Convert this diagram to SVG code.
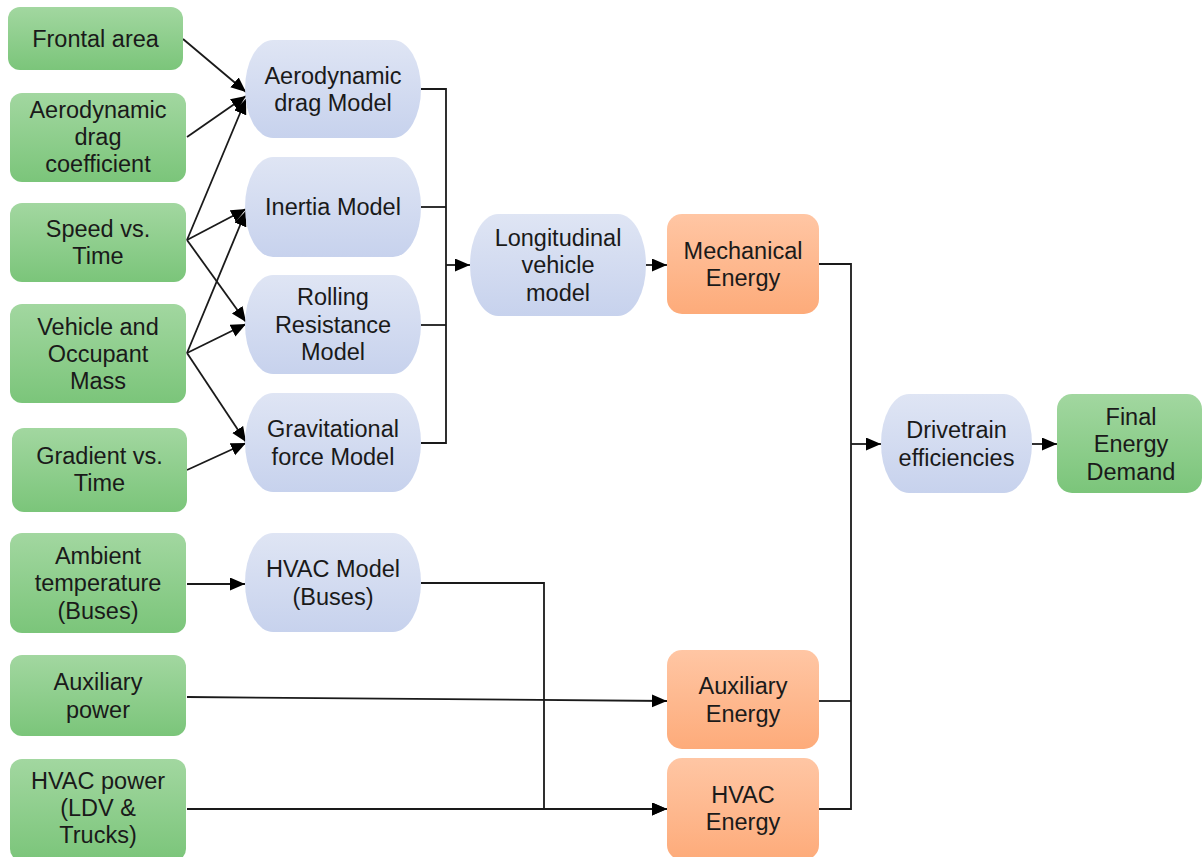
<svg xmlns="http://www.w3.org/2000/svg" width="1202" height="857" viewBox="0 0 1202 857">
<defs>
<linearGradient id="gG" x1="0" y1="0" x2="0" y2="1"><stop offset="0" stop-color="#a2d7a0"/><stop offset="1" stop-color="#7bc57a"/></linearGradient>
<linearGradient id="gB" x1="0" y1="0" x2="0" y2="1"><stop offset="0" stop-color="#dfe5f4"/><stop offset="1" stop-color="#c7d2ed"/></linearGradient>
<linearGradient id="gO" x1="0" y1="0" x2="0" y2="1"><stop offset="0" stop-color="#ffc6a4"/><stop offset="1" stop-color="#fdab7a"/></linearGradient>
<marker id="ar" markerUnits="userSpaceOnUse" markerWidth="16" markerHeight="14" refX="15" refY="6.5" orient="auto"><path d="M0,0 L15,6.5 L0,13 z" fill="#000"/></marker>
<style>
.g{fill:url(#gG);}
.b{fill:url(#gB);}
.o{fill:url(#gO);}
text{font-family:"Liberation Sans",Arial,sans-serif;font-size:23.5px;fill:#1a1a1a;text-anchor:middle;}
.c{fill:none;stroke:#1a1a1a;stroke-width:1.8;}
.a{marker-end:url(#ar);}
</style>
</defs>
<rect width="1202" height="857" fill="#fff"/>
<g id="connectors">
<line class="c a" x1="183" y1="39" x2="246" y2="92"/>
<line class="c a" x1="187" y1="137" x2="246" y2="96"/>
<line class="c a" x1="187" y1="240" x2="246" y2="99"/>
<line class="c a" x1="187" y1="240" x2="246" y2="209"/>
<line class="c a" x1="187" y1="353" x2="246" y2="211"/>
<line class="c a" x1="187" y1="240" x2="246" y2="322"/>
<line class="c a" x1="187" y1="353" x2="246" y2="324"/>
<line class="c a" x1="187" y1="353" x2="246" y2="442"/>
<line class="c a" x1="187" y1="470" x2="246" y2="443"/>
<polyline class="c" points="421,89 446,89 446,443 421,443"/>
<line class="c" x1="421" y1="207" x2="446" y2="207"/>
<line class="c" x1="421" y1="325" x2="446" y2="325"/>
<line class="c a" x1="446" y1="265" x2="470" y2="265"/>
<line class="c a" x1="646" y1="265" x2="667" y2="265"/>
<polyline class="c" points="819,264 851,264 851,809 819,809"/>
<line class="c" x1="819" y1="701" x2="851" y2="701"/>
<line class="c a" x1="851" y1="444" x2="881" y2="444"/>
<line class="c a" x1="1032" y1="444" x2="1057" y2="444"/>
<line class="c a" x1="187" y1="584" x2="245" y2="584"/>
<polyline class="c a" points="421,583 544,583 544,809 667,809"/>
<line class="c a" x1="187" y1="697" x2="667" y2="701"/>
<line class="c a" x1="187" y1="809" x2="667" y2="809"/>
</g>
<g id="frontal-area"><rect class="g" x="8" y="7" width="175" height="63" rx="12"/><text x="95.5" y="47">Frontal area</text></g>
<g id="aero-coef"><rect class="g" x="10" y="93" width="176" height="89" rx="12"/><text x="98" y="118">Aerodynamic</text><text x="98" y="145">drag</text><text x="98" y="172">coefficient</text></g>
<g id="speed"><rect class="g" x="10" y="203" width="176" height="79" rx="12"/><text x="98" y="237">Speed vs.</text><text x="98" y="264">Time</text></g>
<g id="mass"><rect class="g" x="10" y="304" width="176" height="99" rx="12"/><text x="98" y="335">Vehicle and</text><text x="98" y="362">Occupant</text><text x="98" y="389">Mass</text></g>
<g id="gradient"><rect class="g" x="12" y="428" width="175" height="84" rx="12"/><text x="99.5" y="464">Gradient vs.</text><text x="99.5" y="491">Time</text></g>
<g id="ambient"><rect class="g" x="10" y="533" width="176" height="100" rx="12"/><text x="98" y="563.5">Ambient</text><text x="98" y="591">temperature</text><text x="98" y="618.5">(Buses)</text></g>
<g id="aux-power"><rect class="g" x="10" y="655" width="176" height="81" rx="12"/><text x="98" y="690">Auxiliary</text><text x="98" y="717.5">power</text></g>
<g id="hvac-power"><rect class="g" x="10" y="759" width="176" height="102" rx="12"/><text x="98" y="789">HVAC power</text><text x="98" y="816">(LDV &amp;</text><text x="98" y="843">Trucks)</text></g>
<g id="aero-model"><rect class="b" x="245" y="40" width="176" height="98" rx="28" ry="60"/><text x="333" y="83.5">Aerodynamic</text><text x="333" y="111">drag Model</text></g>
<g id="inertia-model"><rect class="b" x="245" y="157" width="176" height="100" rx="28" ry="60"/><text x="333" y="215">Inertia Model</text></g>
<g id="rolling-model"><rect class="b" x="245" y="275" width="176" height="99" rx="28" ry="60"/><text x="333" y="305">Rolling</text><text x="333" y="332.5">Resistance</text><text x="333" y="360">Model</text></g>
<g id="grav-model"><rect class="b" x="245" y="393" width="176" height="99" rx="28" ry="60"/><text x="333" y="437">Gravitational</text><text x="333" y="464.5">force Model</text></g>
<g id="hvac-model"><rect class="b" x="245" y="533" width="176" height="99" rx="28" ry="60"/><text x="333" y="577">HVAC Model</text><text x="333" y="604.5">(Buses)</text></g>
<g id="longitudinal"><rect class="b" x="470" y="214" width="176" height="102" rx="28" ry="60"/><text x="558" y="245.5">Longitudinal</text><text x="558" y="273">vehicle</text><text x="558" y="300.5">model</text></g>
<g id="mech-energy"><rect class="o" x="667" y="214" width="152" height="100" rx="15"/><text x="743" y="258.5">Mechanical</text><text x="743" y="286">Energy</text></g>
<g id="drivetrain"><rect class="b" x="881" y="394" width="151" height="99" rx="28" ry="60"/><text x="956.5" y="438">Drivetrain</text><text x="956.5" y="465.5">efficiencies</text></g>
<g id="final"><rect class="g" x="1057" y="394" width="145" height="99" rx="15"/><text x="1131" y="424.5">Final</text><text x="1131" y="452">Energy</text><text x="1131" y="479.5">Demand</text></g>
<g id="aux-energy"><rect class="o" x="667" y="650" width="152" height="99" rx="15"/><text x="743" y="694">Auxiliary</text><text x="743" y="721.5">Energy</text></g>
<g id="hvac-energy"><rect class="o" x="667" y="758" width="152" height="102" rx="15"/><text x="743" y="802.5">HVAC</text><text x="743" y="830">Energy</text></g>
</svg>
